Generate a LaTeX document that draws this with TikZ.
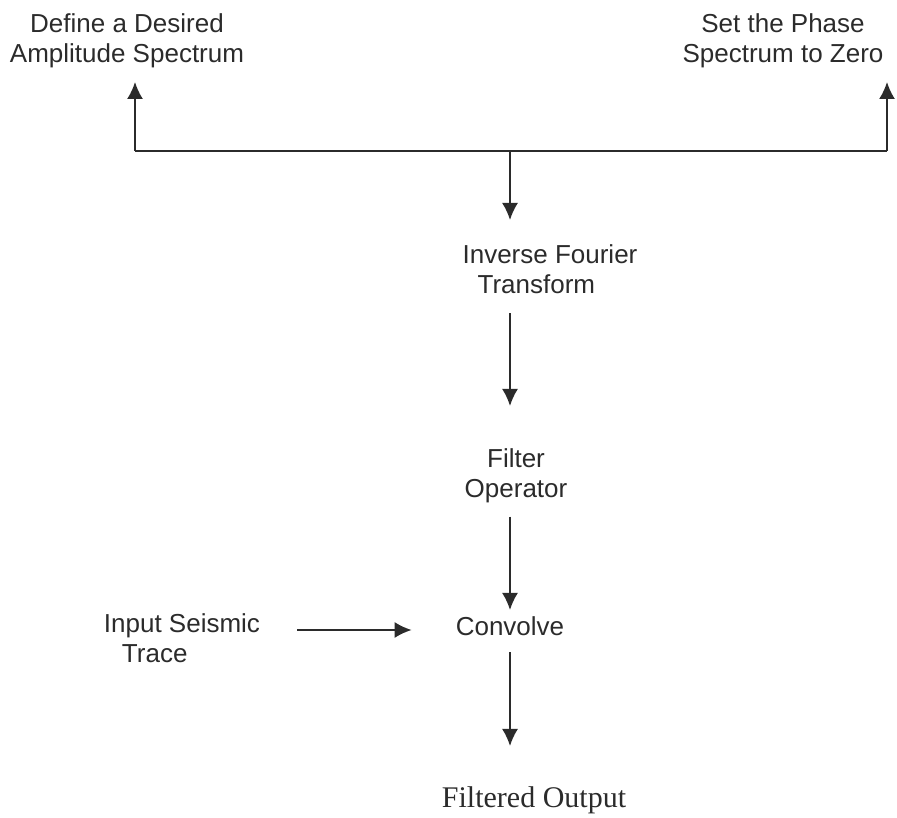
\documentclass[tikz,border=0pt]{standalone}
\usepackage{fontspec}
\setmainfont{Liberation Sans}
\newfontfamily\timesfont{Liberation Serif}
\usetikzlibrary{arrows.meta}
\definecolor{ink}{HTML}{2B2B2B}
\begin{document}
\begin{tikzpicture}[
    x=1pt, y=-1pt,
    step label/.style={align=center, inner sep=0pt, anchor=base, text=ink,
      font=\fontsize{26}{30}\selectfont},
    arr/.style={-{Latex[length=17pt,width=16pt]}, draw=ink, line width=1.8pt}
  ]
    \useasboundingbox (0,0) rectangle (897,818);

    % multi-line labels sit on the baseline of their last line
    \node[step label] (amp) at (127,63) {Define a Desired\\Amplitude Spectrum};
    \node[step label] (phase) at (783,63) {Set the Phase\\Spectrum to Zero};
    \node[step label, align=left] (ift) at (550,294) {Inverse Fourier\\\hspace*{15pt}Transform};
    \node[step label] (filt) at (516,497) {Filter\\Operator};
    \node[step label] (conv) at (510,635) {Convolve};
    \node[step label, align=left] (input) at (182,662) {Input Seismic\\\hspace*{18pt}Trace};
    \node[step label, font=\timesfont\fontsize{30}{34}\selectfont] (out) at (534,807) {Filtered Output};

    \coordinate (split) at (510,151);
    \coordinate (lc) at (135,151);
    \coordinate (rc) at (887,151);
    \coordinate (convin) at ([yshift=5pt]conv.base west);

    \draw[draw=ink, line width=1.8pt] (lc) -- (rc);
    \draw[arr] (lc) -- (lc |- 0,82);
    \draw[arr] (rc) -- (rc |- 0,82);
    \draw[arr] (split) -- (split |- 0,220);

    \draw[arr, shorten <=19pt, shorten >=42pt] (ift.south -| split) -- (filt.north -| split);
    \draw[arr, shorten <=14pt, shorten >=6pt] (filt.south -| split) -- (conv.north -| split);
    \draw[arr, shorten <=17pt, shorten >=40pt] (conv.south -| split) -- (out.north -| split);
    \draw[arr, shorten <=37pt, shorten >=44pt] (input.east |- convin) -- (convin);
  \end{tikzpicture}
\end{document}
